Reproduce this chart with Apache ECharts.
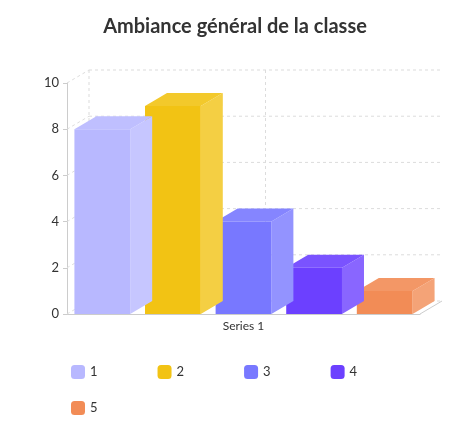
<!DOCTYPE html>
<html><head><meta charset="utf-8">
<script src="https://cdn.jsdelivr.net/npm/echarts@6/dist/echarts.min.js"></script>
<style>html,body{margin:0;padding:0;background:#fff}#c{width:470px;height:444px}</style>
</head><body><div id="c"></div>
<script>
// chart data
var names = ['1', '2', '3', '4', '5'];
var values = [8, 9, 4, 2, 1];
var colors = ['#b8b8ff', '#f2c314', '#7878ff', '#6c40ff', '#f28c56'];
var yTicks = [0, 2, 4, 6, 8, 10];
var groupLabel = ['Series 1'];

var DX = 22, DY = -13;   // 3d depth offset

var chart = echarts.init(document.getElementById('c'));

function renderBar(color) {
  return function (params, api) {
    var idx = api.value(0), v = api.value(1);
    var top = api.coord([idx, v]);
    var base = api.coord([idx, 0]);
    var w = api.size([1, 0])[0] * 0.79;
    var x0 = top[0] - w / 2, x1 = top[0] + w / 2;
    var y0 = top[1], y1 = base[1];
    return {
      type: 'group',
      children: [
        { type: 'polygon', shape: { points: [[x1, y0], [x1 + DX, y0 + DY], [x1 + DX, y1 + DY], [x1, y1]] },
          style: { fill: echarts.color.lift(color, 0.2) } },
        { type: 'polygon', shape: { points: [[x0, y0], [x0 + DX, y0 + DY], [x1 + DX, y0 + DY], [x1, y0]] },
          style: { fill: echarts.color.lift(color, 0.1) } },
        { type: 'rect', shape: { x: x0, y: y0, width: w, height: y1 - y0 }, style: { fill: color } }
      ]
    };
  };
}

var series = names.map(function (n, i) {
  return {
    name: n, type: 'custom', itemStyle: { color: colors[i] },
    renderItem: renderBar(colors[i]), data: [[i, values[i]]], z: 10 - i
  };
});

// back wall grid and floor
series.push({
  type: 'custom', silent: true, z: 1,
  data: yTicks.map(function (t) { return [0, t]; }),
  renderItem: function (params, api) {
    var t = api.value(1);
    var left = api.coord([0, t]);
    var w = api.size([1, 0])[0];
    var xl = left[0] - w / 2, xr = xl + w * names.length;
    var y = left[1];
    var dash = { stroke: '#dcdcdc', lineDash: [3, 3], lineWidth: 1 };
    var kids = [
      { type: 'line', shape: { x1: xl + DX, y1: y + DY, x2: xr + DX, y2: y + DY }, style: dash },
      { type: 'line', shape: { x1: xl, y1: y, x2: xl + DX, y2: y + DY }, style: dash }
    ];
    if (t === 0) {
      var top = api.coord([0, 10])[1];
      var mid = (xl + xr) / 2 + DX;
      kids.push({ type: 'line', shape: { x1: mid, y1: y + DY, x2: mid, y2: top + DY }, style: dash });
      kids.push({ type: 'line', shape: { x1: xr, y1: y, x2: xr + DX, y2: y + DY }, style: { stroke: '#ccc', lineWidth: 1 } });
      kids.push({ type: 'line', shape: { x1: xl + DX, y1: top + DY, x2: xl + DX, y2: y + DY }, style: dash });
    }
    return { type: 'group', children: kids };
  }
});

var legendBase = {
  itemWidth: 14, itemHeight: 14, itemGap: 60, icon: 'roundRect',
  textStyle: { fontSize: 13, color: '#333' }
};

chart.setOption({
  animation: false,
  textStyle: { fontFamily: 'Lato' },
  title: {
    text: 'Ambiance général de la classe', left: 'center', top: 12,
    textStyle: { fontSize: 20, fontWeight: 'bold', color: '#333', fontFamily: 'Lato' }
  },
  grid: { left: 67, right: 50, top: 83, bottom: 130 },
  legend: [
    Object.assign({ data: names.slice(0, 4), left: 66, top: 360 }, legendBase),
    Object.assign({ data: names.slice(4), left: 66, top: 396 }, legendBase)
  ],
  xAxis: [
    { type: 'category', data: names, axisLabel: { show: false }, axisTick: { show: false },
      axisLine: { lineStyle: { color: '#ccc' } } },
    { type: 'category', data: groupLabel, position: 'bottom', axisTick: { show: false },
      axisLine: { show: false }, axisLabel: { color: '#333', fontSize: 12, margin: 6 } }
  ],
  yAxis: {
    type: 'value', min: 0, max: 10, interval: 2, splitLine: { show: false },
    axisLine: { show: true, lineStyle: { color: '#ccc' } },
    axisTick: { show: true, length: 4, lineStyle: { color: '#ccc' } },
    axisLabel: { color: '#333', fontSize: 13, margin: 8 }
  },
  series: series
});
</script></body></html>
